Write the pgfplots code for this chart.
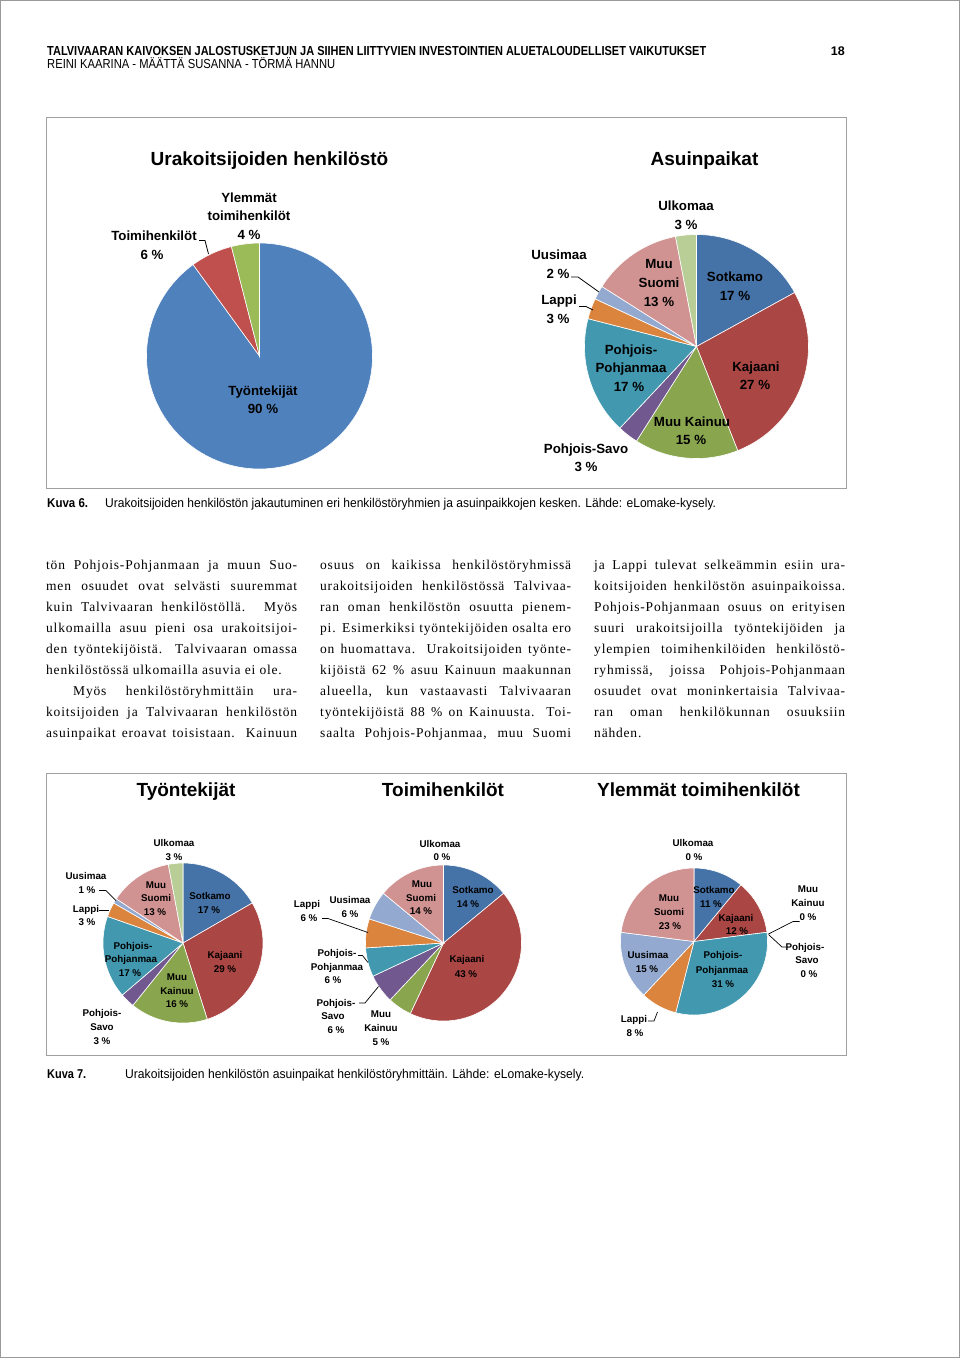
\documentclass[border=0pt]{standalone}
\usepackage{graphicx}
\usepackage{pgfplots}
\pgfplotsset{compat=1.18}
\usepackage{pgfplotstable}
\usepackage{fontspec}
\setmainfont{Liberation Sans}
\newfontfamily\bodyfont[LetterSpace=6]{Liberation Serif}

% Excel colours
\definecolor{tc0}{HTML}{4F81BD}
\definecolor{tc1}{HTML}{C0504D}
\definecolor{tc2}{HTML}{9BBB59}
\definecolor{pc0}{HTML}{4572A7}
\definecolor{pc1}{HTML}{AA4643}
\definecolor{pc2}{HTML}{89A54E}
\definecolor{pc3}{HTML}{71588F}
\definecolor{pc4}{HTML}{4198AF}
\definecolor{pc5}{HTML}{DB843D}
\definecolor{pc6}{HTML}{93A9CF}
\definecolor{pc7}{HTML}{D19392}
\definecolor{pc8}{HTML}{B9CD96}
\definecolor{framegray}{HTML}{A0A0A0}

% ---------------- data ----------------
\pgfplotstableread{
group value
Tyontekijat 90
Toimihenkilot 6
Ylemmat 4
}\henkilosto

\pgfplotstableread{
place value
Sotkamo 17
Kajaani 27
MuuKainuu 15
PohjoisSavo 3
PohjoisPohjanmaa 17
Lappi 3
Uusimaa 2
MuuSuomi 13
Ulkomaa 3
}\asuinpaikat

\pgfplotstableread{
place value
Sotkamo 17
Kajaani 29
MuuKainuu 16
PohjoisSavo 3
PohjoisPohjanmaa 17
Lappi 3
Uusimaa 1
MuuSuomi 13
Ulkomaa 3
}\tyontekijat

\pgfplotstableread{
place value
Sotkamo 14
Kajaani 43
MuuKainuu 5
PohjoisSavo 6
PohjoisPohjanmaa 6
Lappi 6
Uusimaa 6
MuuSuomi 14
Ulkomaa 0
}\toimihenkilot

\pgfplotstableread{
place value
Sotkamo 11
Kajaani 12
MuuKainuu 0
PohjoisSavo 0
PohjoisPohjanmaa 31
Lappi 8
Uusimaa 15
MuuSuomi 23
Ulkomaa 0
}\ylemmat

% ---------------- pie drawing ----------------
\newcommand\drawpie[2]{% #1 table, #2 colour prefix
  \pgfplotstablegetrowsof{#1}\pgfmathtruncatemacro\nrows{\pgfplotsretval-1}%
  \gdef\pietotal{0}%
  \foreach \i in {0,...,\nrows}{%
    \pgfplotstablegetelem{\i}{value}\of{#1}%
    \pgfmathsetmacro\tmp{\pietotal+\pgfplotsretval}\xdef\pietotal{\tmp}}%
  \gdef\cum{0}%
  \foreach \i in {0,...,\nrows}{%
    \pgfplotstablegetelem{\i}{value}\of{#1}\let\v\pgfplotsretval
    \pgfmathsetmacro\sa{90-360*(\cum/\pietotal)}%
    \pgfmathsetmacro\newcum{\cum+\v}%
    \pgfmathsetmacro\ea{90-360*(\newcum/\pietotal)}%
    \xdef\cum{\newcum}%
    \pgfmathtruncatemacro\pos{\v>0}%
    \ifnum\pos=1
      \pgfmathtruncatemacro\ns{max(4,(\sa-\ea)/2)}%
      \edef\doslice{\noexpand\addplot[fill=#2\i, draw=white, line width=0.6pt, domain=\ea:\sa, samples=\ns, variable=\noexpand\t] ({cos(\noexpand\t)},{sin(\noexpand\t)}) -- (axis cs:0,0) -- cycle;}%
      \doslice
    \fi
  }%
}
\newcommand\pieaxis[5]{% cx, cy, diameter, table, prefix
  \begin{axis}[at={(#1pt,-#2pt)}, anchor=center, scale only axis,
    width=#3pt, height=#3pt, hide axis, xmin=-1, xmax=1, ymin=-1, ymax=1, clip=false]
    \drawpie{#4}{#5}
  \end{axis}}

\newcommand\tl[3]{\node[anchor=base, inner sep=0, font=\fontsize{13.3}{16}\selectfont\bfseries] at (#1pt,-#2pt) {#3};}
\newcommand\bl[3]{\node[anchor=base, inner sep=0, font=\fontsize{9.8}{12}\selectfont\bfseries] at (#1pt,-#2pt) {#3};}
\newcommand\ttl[3]{\node[anchor=base, inner sep=0, font=\fontsize{19}{23}\selectfont\bfseries] at (#1pt,-#2pt) {#3};}
\newcommand\jl[1]{\hbox to 251pt{#1}}
\newcommand\fitbox[3]{\resizebox{#1}{#2}{\raisebox{0pt}[\fontcharht\font`k][0pt]{#3}}}

\begin{document}
\begin{tikzpicture}
\path[use as bounding box] (0,0) rectangle (960pt,-1358pt);
\fill[white] (0,0) rectangle (960pt,-1358pt);
\draw[gray!80, line width=1pt] (0.5pt,-0.5pt) rectangle (959.5pt,-1357.5pt);

% header
\node[anchor=base west, inner sep=0] at (47pt,-55.5pt) {\bfseries\fitbox{659pt}{9pt}{TALVIVAARAN KAIVOKSEN JALOSTUSKETJUN JA SIIHEN LIITTYVIEN INVESTOINTIEN ALUETALOUDELLISET VAIKUTUKSET}};
\node[anchor=base west, inner sep=0] at (47pt,-68.5pt) {\fitbox{288pt}{9pt}{REINI KAARINA - MÄÄTTÄ SUSANNA - TÖRMÄ HANNU}};
\node[anchor=base east, inner sep=0, font=\fontsize{12.5}{15}\selectfont\bfseries] at (845pt,-55.5pt) {18};

% ---------- figure 6 ----------
\draw[framegray, line width=0.9pt] (46pt,-117pt) rectangle (846pt,-488pt);
\pieaxis{259.5}{356}{226}{\henkilosto}{tc}
\pieaxis{696.5}{346.5}{224}{\asuinpaikat}{pc}

\ttl{269.5}{165}{Urakoitsijoiden henkilöstö}
\ttl{704.5}{165}{Asuinpaikat}

\tl{249}{202}{Ylemmät}
\tl{249}{220.5}{toimihenkilöt}
\tl{249}{239}{4 \%}
\tl{154}{240}{Toimihenkilöt}
\tl{152}{259}{6 \%}
\tl{263}{395}{Työntekijät}
\tl{263}{413}{90 \%}
\draw[line width=0.8pt] (199pt,-240.5pt) -- (205pt,-240.5pt) -- (208.5pt,-254pt);

\tl{686}{210}{Ulkomaa} \tl{686}{229}{3 \%}
\tl{735}{281}{Sotkamo} \tl{735}{300}{17 \%}
\tl{659}{268.5}{Muu} \tl{659}{287.5}{Suomi} \tl{659}{306}{13 \%}
\tl{559}{259}{Uusimaa} \tl{558}{278}{2 \%}
\tl{559}{304}{Lappi} \tl{558}{323}{3 \%}
\tl{631}{354}{Pohjois-} \tl{631}{372.5}{Pohjanmaa} \tl{629}{391}{17 \%}
\tl{756}{371}{Kajaani} \tl{755}{389.5}{27 \%}
\tl{692}{426}{Muu Kainuu} \tl{691}{444.5}{15 \%}
\tl{586}{453.5}{Pohjois-Savo} \tl{586}{471}{3 \%}
\draw[line width=0.8pt] (571pt,-277pt) -- (578pt,-277pt) -- (599pt,-292pt);
\draw[line width=0.8pt] (579pt,-306.5pt) -- (586pt,-306.5pt) -- (593pt,-310pt);

% caption 6
\node[anchor=base west, inner sep=0] at (47pt,-507.5pt) {\bfseries\fitbox{41pt}{8.8pt}{Kuva 6.}};
\node[anchor=base west, inner sep=0] at (105pt,-507.5pt) {\fitbox{611pt}{8.8pt}{Urakoitsijoiden henkilöstön jakautuminen eri henkilöstöryhmien ja asuinpaikkojen kesken. Lähde: eLomake-kysely.}};

% ---------- body text ----------
\node[anchor=base west, inner sep=0] at (46pt,-569pt) {\vtop{\bodyfont\fontsize{13.5}{21}\selectfont
\jl{tön Pohjois-Pohjanmaan ja muun Suo-}
\jl{men osuudet ovat selvästi suuremmat}
\jl{kuin Talvivaaran henkilöstöllä. Myös}
\jl{ulkomailla asuu pieni osa urakoitsijoi-}
\jl{den työntekijöistä. Talvivaaran omassa}
\hbox{henkilöstössä ulkomailla asuvia ei ole.}
\jl{\hspace*{27pt}Myös henkilöstöryhmittäin ura-}
\jl{koitsijoiden ja Talvivaaran henkilöstön}
\jl{asuinpaikat eroavat toisistaan. Kainuun}}};

\node[anchor=base west, inner sep=0] at (320pt,-569pt) {\vtop{\bodyfont\fontsize{13.5}{21}\selectfont
\jl{osuus on kaikissa henkilöstöryhmissä}
\jl{urakoitsijoiden henkilöstössä Talvivaa-}
\jl{ran oman henkilöstön osuutta pienem-}
\jl{pi. Esimerkiksi työntekijöiden osalta ero}
\jl{on huomattava. Urakoitsijoiden työnte-}
\jl{kijöistä 62 \% asuu Kainuun maakunnan}
\jl{alueella, kun vastaavasti Talvivaaran}
\jl{työntekijöistä 88 \% on Kainuusta. Toi-}
\jl{saalta Pohjois-Pohjanmaa, muu Suomi}}};

\node[anchor=base west, inner sep=0] at (594pt,-569pt) {\vtop{\bodyfont\fontsize{13.5}{21}\selectfont
\jl{ja Lappi tulevat selkeämmin esiin ura-}
\jl{koitsijoiden henkilöstön asuinpaikoissa.}
\jl{Pohjois-Pohjanmaan osuus on erityisen}
\jl{suuri urakoitsijoilla työntekijöiden ja}
\jl{ylempien toimihenkilöiden henkilöstö-}
\jl{ryhmissä, joissa Pohjois-Pohjanmaan}
\jl{osuudet ovat moninkertaisia Talvivaa-}
\jl{ran oman henkilökunnan osuuksiin}
\hbox{nähden.}}};

% ---------- figure 7 ----------
\draw[framegray, line width=0.9pt] (46pt,-773pt) rectangle (846pt,-1055pt);
\pieaxis{183}{943}{160}{\tyontekijat}{pc}
\pieaxis{443.5}{943}{156}{\toimihenkilot}{pc}
\pieaxis{694}{941.5}{147}{\ylemmat}{pc}

\ttl{186}{796.5}{Työntekijät}
\ttl{443}{796.5}{Toimihenkilöt}
\ttl{698.5}{796.5}{Ylemmät toimihenkilöt}

% Tyontekijat labels
\bl{174}{846}{Ulkomaa} \bl{174}{860}{3 \%}
\bl{210}{899.5}{Sotkamo} \bl{209}{913.5}{17 \%}
\bl{156}{888}{Muu} \bl{156}{901.5}{Suomi} \bl{155}{915}{13 \%}
\bl{86}{879}{Uusimaa} \bl{87}{893}{1 \%}
\bl{86}{912}{Lappi} \bl{87}{925.5}{3 \%}
\bl{133}{949}{Pohjois-} \bl{131}{962.5}{Pohjanmaa} \bl{130}{976}{17 \%}
\bl{225}{958.5}{Kajaani} \bl{225}{972}{29 \%}
\bl{177}{980}{Muu} \bl{177}{994}{Kainuu} \bl{177}{1007.5}{16 \%}
\bl{102}{1016}{Pohjois-} \bl{102}{1030}{Savo} \bl{102}{1044}{3 \%}
\draw[line width=0.7pt] (99pt,-890.5pt) -- (106pt,-890.5pt) -- (116pt,-900.5pt);
\draw[line width=0.7pt] (99pt,-910.5pt) -- (109pt,-910.5pt);

% Toimihenkilot labels
\bl{440}{847}{Ulkomaa} \bl{442}{860.5}{0 \%}
\bl{473}{893.5}{Sotkamo} \bl{468}{907}{14 \%}
\bl{422}{887}{Muu} \bl{421}{901}{Suomi} \bl{421}{914.5}{14 \%}
\bl{350}{903}{Uusimaa} \bl{350}{917}{6 \%}
\bl{307}{907}{Lappi} \bl{309}{921}{6 \%}
\bl{337}{956}{Pohjois-} \bl{337}{970}{Pohjanmaa} \bl{333}{983.5}{6 \%}
\bl{336}{1006}{Pohjois-} \bl{333}{1019.5}{Savo} \bl{336}{1033}{6 \%}
\bl{381}{1017.5}{Muu} \bl{381}{1031.5}{Kainuu} \bl{381}{1045}{5 \%}
\bl{467}{962.5}{Kajaani} \bl{466}{977}{43 \%}
\draw[line width=0.7pt] (322pt,-918.5pt) -- (328pt,-918.5pt) -- (368pt,-932.5pt);
\draw[line width=0.7pt] (358pt,-955.5pt) -- (362.5pt,-955.5pt) -- (368pt,-962.5pt);
\draw[line width=0.7pt] (359pt,-1003pt) -- (365pt,-1003pt) -- (378.5pt,-986.5pt);

% Ylemmat labels
\bl{693}{846}{Ulkomaa} \bl{694}{860}{0 \%}
\bl{714}{893.5}{Sotkamo} \bl{711}{907}{11 \%}
\bl{736}{921}{Kajaani} \bl{737}{934}{12 \%}
\bl{669}{901}{Muu} \bl{669}{915}{Suomi} \bl{670}{929.5}{23 \%}
\bl{808}{892}{Muu} \bl{808}{906}{Kainuu} \bl{808}{920}{0 \%}
\bl{805}{950}{Pohjois-} \bl{807}{963.5}{Savo} \bl{809}{977}{0 \%}
\bl{648}{958.5}{Uusimaa} \bl{647}{972}{15 \%}
\bl{723}{958.5}{Pohjois-} \bl{722}{973}{Pohjanmaa} \bl{723}{987}{31 \%}
\bl{634}{1022.5}{Lappi} \bl{635}{1036}{8 \%}
\draw[line width=0.7pt] (799.5pt,-921.5pt) -- (793pt,-921.5pt) -- (768.5pt,-934pt);
\draw[line width=0.7pt] (786pt,-947pt) -- (782pt,-947pt) -- (768.5pt,-934.5pt);
\draw[line width=0.7pt] (648pt,-1021pt) -- (654pt,-1021pt) -- (657.5pt,-1012pt);

% caption 7
\node[anchor=base west, inner sep=0] at (47pt,-1078pt) {\bfseries\fitbox{39pt}{8.8pt}{Kuva 7.}};
\node[anchor=base west, inner sep=0] at (125pt,-1078pt) {\fitbox{459pt}{8.8pt}{Urakoitsijoiden henkilöstön asuinpaikat henkilöstöryhmittäin. Lähde: eLomake-kysely.}};
\end{tikzpicture}
\end{document}
